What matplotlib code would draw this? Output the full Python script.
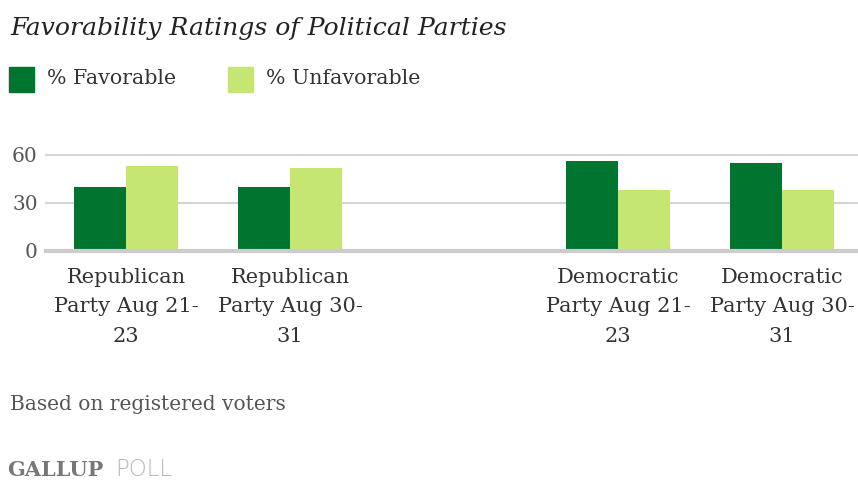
import matplotlib.pyplot as plt
import numpy as np

# data
categories = ["Republican\nParty Aug 21-\n23", "Republican\nParty Aug 30-\n31",
              "Democratic\nParty Aug 21-\n23", "Democratic\nParty Aug 30-\n31"]
slots = [0, 1, 3, 4]          # empty slot between the parties
favorable = [40, 40, 56, 55]
unfavorable = [53, 52, 38, 38]
yticks = [0, 30, 60]

dark_green = "#00752f"
light_green = "#c6e673"
serif = "DejaVu Serif"

W, H = 858, 482
fig = plt.figure(figsize=(W / 100, H / 100), dpi=100)
ax = fig.add_axes([46 / W, (H - 251) / H, (858 - 46) / W, (251 - 155) / H])

x = np.array(slots, dtype=float)
w = 0.317
ax.bar(x - w / 2, favorable, w, color=dark_green, label="% Favorable", zorder=3)
ax.bar(x + w / 2, unfavorable, w, color=light_green, label="% Unfavorable", zorder=3)

ax.set_xlim(-80 / 164, 732 / 164)
ax.set_ylim(0, 60)
ax.set_yticks(yticks)
ax.set_yticklabels([str(t) for t in yticks], fontfamily=serif, fontsize=14.5, color="#555555")
for t in yticks[1:]:
    ax.axhline(t, color="#d4d4d4", lw=1.5, zorder=1, clip_on=False)
ax.axhline(0, color="#cccccc", lw=3, zorder=4, clip_on=False)

ax.set_xticks(x)
ax.set_xticklabels(categories, fontfamily=serif, fontsize=15, color="#333333")
for lbl in ax.get_xticklabels():
    lbl.set_linespacing(1.72)
ax.tick_params(axis="x", length=0, pad=12)
ax.tick_params(axis="y", length=0, pad=6)
for s in ax.spines.values():
    s.set_visible(False)

# title, legend, notes
fig.text(10 / W, 1 - 28 / H, "Favorability Ratings of Political Parties", fontfamily=serif,
         style="italic", fontsize=18.1, color="#222222", va="center", ha="left")

def legend_item(x0, text, color):
    fig.patches.append(plt.Rectangle((x0 / W, 1 - 92 / H), 25 / W, 25 / H,
                                     transform=fig.transFigure, color=color, figure=fig))
    fig.text((x0 + 38) / W, 1 - 78 / H, text, fontfamily=serif, fontsize=14.8,
             color="#333333", va="center", ha="left")

legend_item(9, "% Favorable", dark_green)
legend_item(228, "% Unfavorable", light_green)

fig.text(10 / W, 1 - 404 / H, "Based on registered voters", fontfamily=serif, fontsize=14.5,
         color="#555555", va="center", ha="left")
fig.text(7 / W, 1 - 470 / H, "GALLUP", fontfamily=serif, fontsize=15, color="#777777",
         va="center", ha="left", fontweight="bold")
fig.text(115 / W, 1 - 470 / H, "POLL", fontfamily="DejaVu Sans", fontsize=16.5,
         color="#b5b5b5", va="center", ha="left", fontweight="light")

fig.savefig("out.png", dpi=100)
